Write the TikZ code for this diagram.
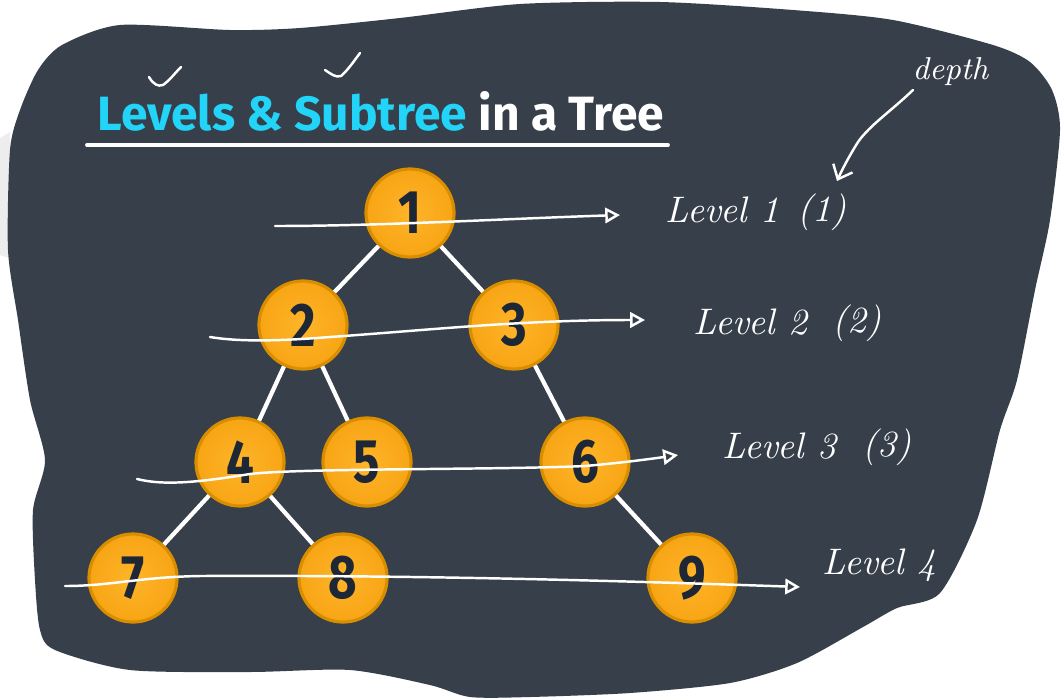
\documentclass[tikz,border=0pt]{standalone}
\usepackage{fontspec}
\usepackage{graphicx}
\usetikzlibrary{arrows.meta}
\newfontfamily\condfont{Fira Sans}
\newcommand{\ballnum}[1]{\scalebox{0.8}[1]{#1}}
\definecolor{bgdark}{HTML}{373F4A}
\definecolor{titlecyan}{HTML}{22D4F7}
\definecolor{ballinner}{HTML}{FFB42A}
\definecolor{ballouter}{HTML}{F7A514}
\definecolor{ballrim}{HTML}{D98E00}
\definecolor{numdark}{HTML}{1D2735}
\begin{document}
\begin{tikzpicture}[x=0.01cm,y=-0.01cm,
  treenode/.style={circle, minimum size=0.88cm, inner sep=0pt, shading=radial,
    inner color=ballinner, outer color=ballouter, draw=ballrim, line width=0.9pt,
    font=\condfont\bfseries\fontsize{17.5}{17.5}\selectfont, text=numdark},
  treeedge/.style={draw=white, line width=1.2pt},
  hand/.style={draw=white, line width=0.7pt, line cap=round, line join=round},
  handtext/.style={text=white, font=\itshape\fontsize{10.5}{11}\selectfont, inner sep=0pt, anchor=west},
  openhead/.style={-{Triangle[open,length=4.2pt,width=4.4pt,line width=0.7pt]}}
]
\useasboundingbox (0,0) rectangle (1061,697);
\fill[white] (0,0) rectangle (1061,697);
% faint shadow at left edge
\fill[black!7] (0,138) -- (10,132) -- (9,258) -- (0,255) -- cycle;
% dark blob
\fill[bgdark] plot[smooth cycle, tension=0.45] coordinates {
 (120,25) (230,30) (300,28) (400,18) (520,4) (660,2) (793,10) (893,20) (993,45)
 (1030,62) (1052,90) (1060,130) (1050,220) (1035,290) (1017,380) (1000,430)
 (977,520) (940,593) (897,608) (863,627) (797,663) (730,683) (630,693) (530,697)
 (470,697) (430,685) (350,670) (250,672) (130,670) (55,650) (40,630) (35,580)
 (33,510) (45,460) (30,400) (18,320) (8,250) (10,150) (20,110) (38,70) (62,45)};

% title
\node[anchor=base west, inner sep=0pt, text=white] (title) at (97,130)
  {\resizebox{5.66cm}{0.39cm}{\condfont\bfseries\textcolor{titlecyan}{Levels \& Subtree} in a Tree}};
\coordinate (ulL) at (87,145);
\coordinate (ulR) at (668,145);
\draw[white, line width=1.1pt, line cap=round] (ulL) -- (ulR);

% checkmarks
\draw[hand] (149,77) .. controls (153,84) and (158,87) .. (163,85) .. controls (170,80) and (175,73) .. (181,67);
\draw[hand] (325,70) .. controls (331,74) and (336,78) .. (341,76) .. controls (348,70) and (354,61) .. (360,53);

% tree nodes
\node[treenode] (n1) at (410,213) {\ballnum{1}};
\node[treenode] (n2) at (303,325) {\ballnum{2}};
\node[treenode] (n3) at (514,325) {\ballnum{3}};
\node[treenode] (n4) at (240,462) {\ballnum{4}};
\node[treenode] (n5) at (367,462) {\ballnum{5}};
\node[treenode] (n6) at (585,462) {\ballnum{6}};
\node[treenode] (n7) at (133,578) {\ballnum{7}};
\node[treenode] (n8) at (343,578) {\ballnum{8}};
\node[treenode] (n9) at (692,578) {\ballnum{9}};

\draw[treeedge] (n1) -- (n2);
\draw[treeedge] (n1) -- (n3);
\draw[treeedge] (n2) -- (n4);
\draw[treeedge] (n2) -- (n5);
\draw[treeedge] (n3) -- (n6);
\draw[treeedge] (n4) -- (n7);
\draw[treeedge] (n4) -- (n8);
\draw[treeedge] (n6) -- (n9);

% level arrows
\coordinate (l1s) at (275,226); \coordinate (l1e) at (620,215);
\coordinate (l2s) at (210,337); \coordinate (l2e) at (645,320);
\coordinate (l3s) at (137,479); \coordinate (l3e) at (678,455);
\coordinate (l4s) at (65,586);  \coordinate (l4e) at (800,587);
\draw[hand, openhead] (l1s) .. controls (380,226) and (500,219) .. (l1e);
\draw[hand, openhead] (l2s) .. controls (240,342) and (280,341) .. (330,337)
  .. controls (430,330) and (520,320) .. (l2e);
\draw[hand, openhead] (l3s) .. controls (165,486) and (200,482) .. (250,474)
  .. controls (300,468) and (500,470) .. (585,466)
  .. controls (620,463) and (650,459) .. (l3e);
\draw[hand, openhead] (l4s) .. controls (110,586) and (140,577) .. (200,576)
  .. controls (400,575) and (600,580) .. (l4e);

% labels
\node[handtext] (t1) at (665,210) {Level 1};
\node[handtext] (p1) at (797,212) {(1)};
\node[handtext] (t2) at (693,322) {Level 2};
\node[handtext] (p2) at (832,323) {(2)};
\node[handtext] (t3) at (722,446) {Level 3};
\node[handtext] (p3) at (862,447) {(3)};
\node[handtext] (t4) at (822,565) {Level 4};
\node[handtext, font=\itshape\fontsize{9}{10}\selectfont] (dp) at (912,72) {depth};

% depth arrow
\coordinate (ds) at (913,90);
\coordinate (de) at (837,181);
\draw[hand, -{Straight Barb[length=3.5pt,width=6pt,line width=0.7pt]}] (ds) .. controls (890,112) and (870,125) .. (858,142)
  .. controls (848,158) and (842,170) .. (de);
\end{tikzpicture}
\end{document}
